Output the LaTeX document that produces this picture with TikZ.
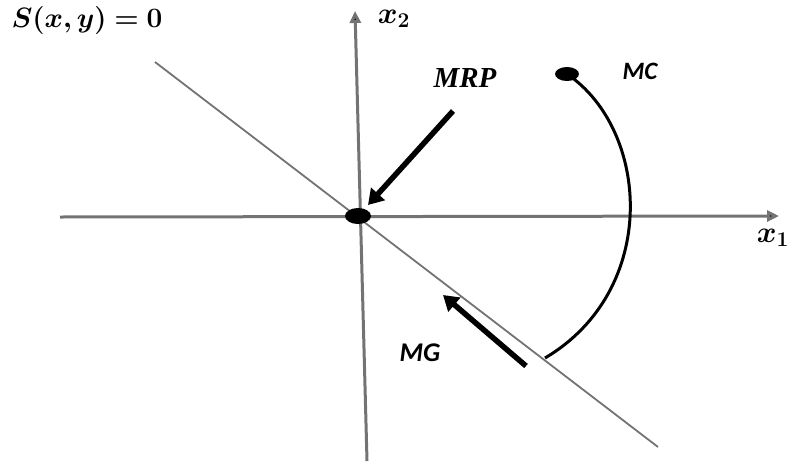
\RequirePackage{fix-cm}
\documentclass[tikz,border=0pt]{standalone}
\usepackage{amsmath,bm}
\usepackage{fontspec}
\newfontfamily\carl{Carlito}
\newfontfamily\tnr{Liberation Serif}
\usetikzlibrary{shapes.geometric,arrows.meta}
\begin{document}
\begin{tikzpicture}[x=1pt,y=-1pt,
  axis/.style={draw=black!55,line width=3pt,-{Triangle[length=12pt,width=11pt,fill=black]}},
  diag/.style={draw=black!55,line width=1.8pt},
  dot/.style={ellipse,fill=black,inner sep=0pt},
  bigarrow/.style={line width=5.5pt,-{Triangle[length=15pt,width=18pt]}},
  mathlabel/.style={font=\fontsize{30}{30}\selectfont},
  sanslabel/.style={font=\carl\bfseries\itshape\fontsize{25}{25}\selectfont}]
\useasboundingbox (0,0) rectangle (787,461);
% axes
\coordinate (x1s) at (60,217);
\coordinate (x1e) at (779,216);
\coordinate (x2s) at (367,461);
\coordinate (x2e) at (355,11);
\draw[axis] (x1s) -- (x1e);
\draw[axis] (x2s) -- (x2e);
% diagonal
\coordinate (ds) at (155,62);
\coordinate (de) at (658,447);
\draw[diag] (ds) -- (de);
% dots
\node[dot,minimum width=26pt,minimum height=16pt] (O) at (358,216) {};
\node[dot,minimum width=24pt,minimum height=14pt] (MCd) at (567,74) {};
\coordinate (cend) at (545,358);
\draw[line width=3pt] (MCd.center) .. controls (650,130) and (660,290) .. (cend);
% labels
\node (S) at (87,20) {\fontsize{28}{28}\selectfont$\bm{S(x,y)=0}$};
\node[mathlabel] (x2l) at (394,19) {$\bm{x_2}$};
\node[mathlabel] (x1l) at (773,238) {$\bm{x_1}$};
\node (MRP) at (465,78) {\tnr\bfseries\itshape\fontsize{29}{29}\selectfont MRP};
\node[sanslabel] (MC) at (640,71) {MC};
\node[sanslabel,font=\carl\bfseries\itshape\fontsize{27}{27}\selectfont] (MG) at (420,353) {MG};
% arrows
\coordinate (mrps) at (453,111);
\coordinate (mrpe) at (368,205);
\draw[bigarrow] (mrps) -- (mrpe);
\coordinate (mgs) at (526,366);
\coordinate (mge) at (443,295);
\draw[bigarrow] (mgs) -- (mge);
\end{tikzpicture}
\end{document}
